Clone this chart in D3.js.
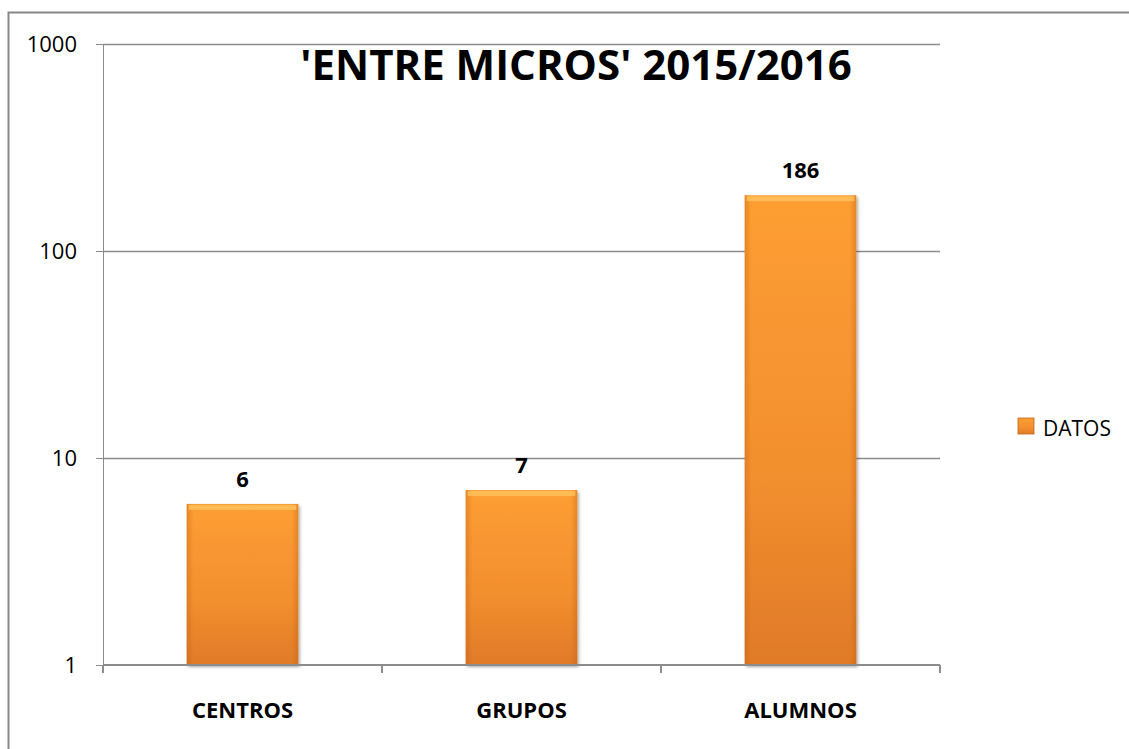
<!DOCTYPE html>
<html lang="es">
<head>
<meta charset="utf-8">
<script src="https://cdn.jsdelivr.net/npm/d3@7"></script>
<style type="text/css">
body {
	margin: 0;
	background-color: #ffffff;
	font-family: 'Open Sans', 'Liberation Sans', sans-serif;
}
.axis path, .axis line {
	stroke: #8c8c8c;
	stroke-width: 1.5;
	shape-rendering: crispEdges;
}
</style>
</head>
<body>
<script type="text/javascript">

// chart data
var categories = ["CENTROS", "GRUPOS", "ALUMNOS"];
var values = [6, 7, 186];
var yTicks = [1, 10, 100, 1000];
var seriesName = "DATOS";
var title = "'ENTRE MICROS' 2015/2016";

var width = 1129, height = 749;

var svg = d3.select("body")
	.append("svg")
	.attr("width", width)
	.attr("height", height)
	.style("font-family", "'Open Sans', 'Liberation Sans', sans-serif");

// outer chart border (runs past the right and bottom edges)
svg.append("rect")
	.attr("x", 8.5)
	.attr("y", 12.5)
	.attr("width", width + 20)
	.attr("height", height + 20)
	.style("fill", "none")
	.style("stroke", "#878787")
	.style("stroke-width", 2);

var plot = { left: 103, right: 940, top: 44, bottom: 665 };

var x = d3.scaleBand()
	.domain(categories)
	.range([plot.left, plot.right])
	.paddingInner(0.6)
	.paddingOuter(0.3);

var y = d3.scaleLog()
	.domain([1, 1000])
	.range([plot.bottom, plot.top]);

// gradients for the bars
var defs = svg.append("defs");
var grad = defs.append("linearGradient")
	.attr("id", "barGrad")
	.attr("x1", "0%").attr("y1", "0%")
	.attr("x2", "0%").attr("y2", "100%");
grad.append("stop").attr("offset", "0%").attr("stop-color", "#fd9e33");
grad.append("stop").attr("offset", "60%").attr("stop-color", "#f28f2e");
grad.append("stop").attr("offset", "100%").attr("stop-color", "#e07a28");

var side = defs.append("linearGradient")
	.attr("id", "sideGrad")
	.attr("x1", "0%").attr("y1", "0%")
	.attr("x2", "100%").attr("y2", "0%");
side.append("stop").attr("offset", "0%").attr("stop-color", "#b85c12").attr("stop-opacity", 0.35);
side.append("stop").attr("offset", "6%").attr("stop-color", "#b85c12").attr("stop-opacity", 0);
side.append("stop").attr("offset", "94%").attr("stop-color", "#b85c12").attr("stop-opacity", 0);
side.append("stop").attr("offset", "100%").attr("stop-color", "#b85c12").attr("stop-opacity", 0.35);

var shadow = defs.append("filter").attr("id", "shadow")
	.attr("x", "-10%").attr("y", "-10%").attr("width", "130%").attr("height", "130%");
shadow.append("feDropShadow")
	.attr("dx", 1.5).attr("dy", 2).attr("stdDeviation", 1.5)
	.attr("flood-color", "#000").attr("flood-opacity", 0.35);

// gridlines
svg.append("g")
	.selectAll("line")
	.data(yTicks.slice(1))
	.enter()
	.append("line")
	.attr("x1", plot.left)
	.attr("x2", plot.right)
	.attr("y1", function(d) { return Math.round(y(d)) + 0.5; })
	.attr("y2", function(d) { return Math.round(y(d)) + 0.5; })
	.style("stroke", "#8c8c8c")
	.style("stroke-width", 1.5);

// bars
var bars = svg.append("g")
	.selectAll("g")
	.data(values)
	.enter()
	.append("g");

bars.append("rect")
	.attr("x", function(d, i) { return x(categories[i]); })
	.attr("y", function(d) { return y(d); })
	.attr("width", x.bandwidth())
	.attr("height", function(d) { return y(1) - y(d); })
	.style("fill", "url(#barGrad)")
	.attr("filter", "url(#shadow)");

bars.append("rect")
	.attr("x", function(d, i) { return x(categories[i]); })
	.attr("y", function(d) { return y(d); })
	.attr("width", x.bandwidth())
	.attr("height", function(d) { return y(1) - y(d); })
	.style("fill", "url(#sideGrad)");

// bevel highlight at the top
bars.append("rect")
	.attr("x", function(d, i) { return x(categories[i]) + 2; })
	.attr("y", function(d) { return y(d) + 1; })
	.attr("width", x.bandwidth() - 4)
	.attr("height", 5)
	.style("fill", "#ffc25e")
	.style("opacity", 0.8);

// value labels
bars.append("text")
	.attr("x", function(d, i) { return x(categories[i]) + x.bandwidth() / 2; })
	.attr("y", function(d) { return y(d) - 17; })
	.attr("text-anchor", "middle")
	.style("font-size", "22px")
	.style("font-weight", "bold")
	.text(function(d) { return d; });

// y axis
var yAxis = d3.axisLeft(y)
	.tickValues(yTicks)
	.tickFormat(d3.format("d"))
	.tickSize(7)
	.tickPadding(19);

var yG = svg.append("g")
	.attr("class", "y axis")
	.attr("transform", "translate(" + plot.left + ",0)")
	.call(yAxis);
yG.selectAll("text")
	.style("font-size", "22px")
	.style("font-family", "'Open Sans', sans-serif")
	.style("fill", "#000");

// x axis, ticks between categories
var xAxisG = svg.append("g")
	.attr("class", "x axis")
	.attr("transform", "translate(0," + plot.bottom + ")");

xAxisG.append("line")
	.attr("x1", plot.left).attr("x2", plot.right)
	.attr("y1", 0).attr("y2", 0);

var edges = d3.range(categories.length + 1).map(function(i) {
	return plot.left + i * (plot.right - plot.left) / categories.length;
});
xAxisG.selectAll("line.tick")
	.data(edges)
	.enter()
	.append("line")
	.attr("class", "tick")
	.attr("x1", function(d) { return d; })
	.attr("x2", function(d) { return d; })
	.attr("y1", 0).attr("y2", 8);

xAxisG.selectAll("text")
	.data(categories)
	.enter()
	.append("text")
	.attr("x", function(d) { return x(d) + x.bandwidth() / 2; })
	.attr("y", 53)
	.attr("text-anchor", "middle")
	.style("font-size", "22px")
	.style("font-weight", "bold")
	.text(function(d) { return d; });

// title
svg.append("text")
	.attr("x", 576)
	.attr("y", 80)
	.attr("text-anchor", "middle")
	.style("font-size", "42px")
	.style("font-weight", "bold")
	.style("fill", "#000")
	.text(title);

// legend
var legend = svg.append("g").attr("transform", "translate(1018,418)");
legend.append("rect")
	.attr("width", 16)
	.attr("height", 16)
	.style("fill", "url(#barGrad)")
	.style("stroke", "#c0651c")
	.style("stroke-width", 0.8);
legend.append("text")
	.attr("x", 25)
	.attr("y", 18)
	.style("font-size", "21px")
	.text(seriesName);

</script>
</body>
</html>
